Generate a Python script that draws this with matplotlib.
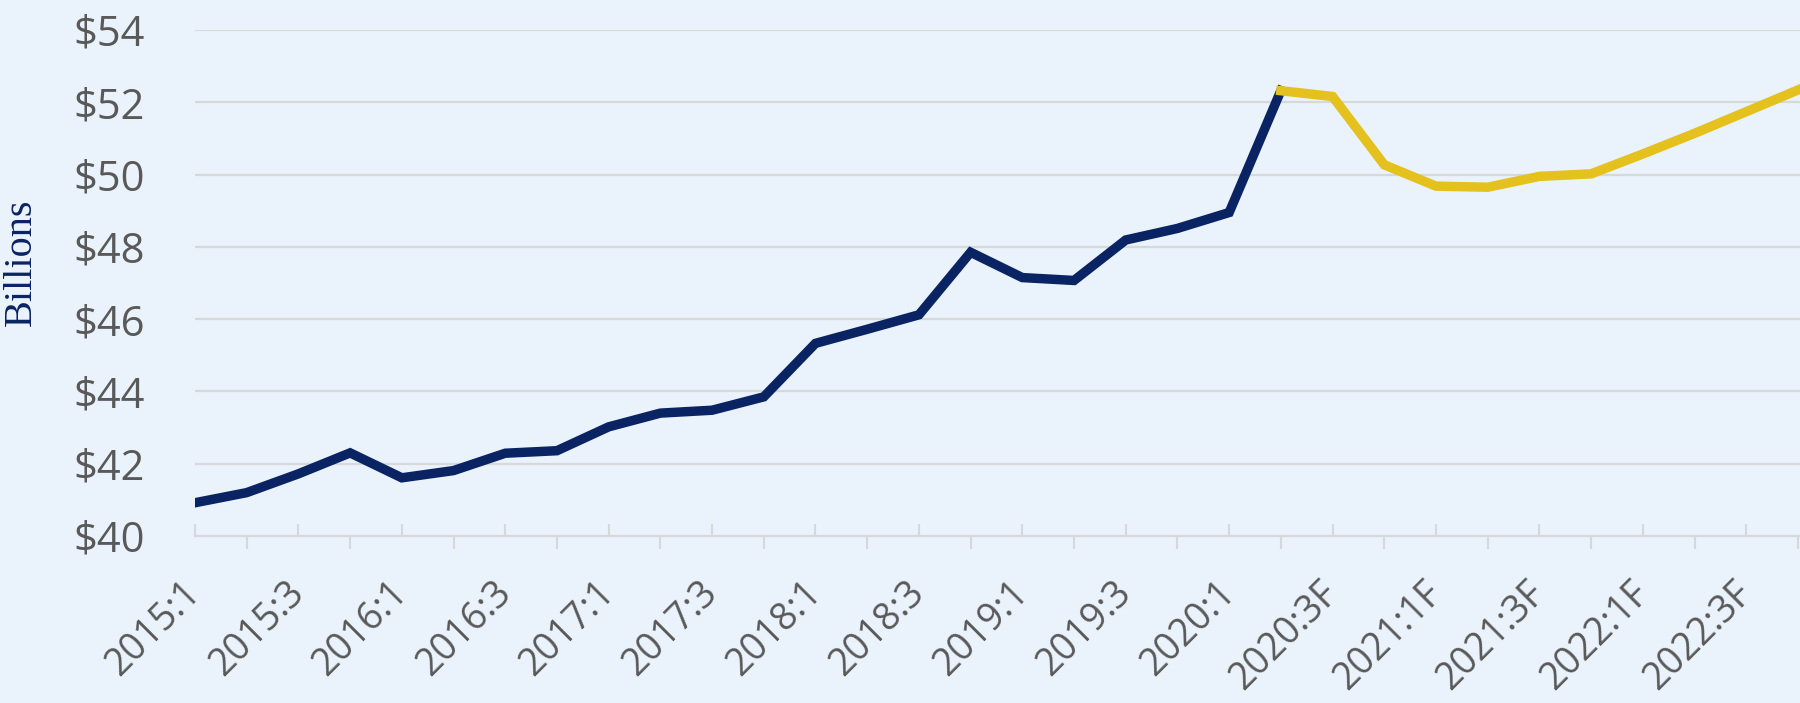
import matplotlib
matplotlib.use("Agg")
import matplotlib.pyplot as plt
import numpy as np

# quarters 2015:1 .. 2022:4, forecast from 2020:3 on
quarters = []
for yr in range(2015, 2023):
    for q in range(1, 5):
        tag = f"{yr}:{q}"
        if (yr, q) >= (2020, 3):
            tag += "F"
        quarters.append(tag)

actual = [40.92, 41.20, 41.72, 42.30, 41.61, 41.81, 42.29, 42.36,
          43.02, 43.40, 43.48, 43.85, 45.33, 45.72, 46.12, 47.85,
          47.15, 47.07, 48.19, 48.51, 48.95, 52.32]
forecast = [52.32, 52.16, 50.27, 49.68, 49.65, 49.95, 50.02,
            50.57, 51.14, 51.74, 52.34]
yticks = [40, 42, 44, 46, 48, 50, 52, 54]

navy = "#0a2463"
gold = "#e4c11c"
bg = "#eaf2fb"
grid_col = "#d6d8da"
text_col = "#595959"

fig = plt.figure(figsize=(18, 7.03), dpi=100)
fig.patch.set_facecolor(bg)
ax = fig.add_axes([195 / 1800, 1 - 536 / 703, 1 - 195 / 1800, (536 - 30) / 703])
ax.set_facecolor(bg)

x_act = np.arange(len(actual))
x_fc = np.arange(len(actual) - 1, len(actual) - 1 + len(forecast))
ax.plot(x_act, actual, color=navy, lw=6.8, solid_joinstyle="miter", zorder=3)
ax.plot(x_fc, forecast, color=gold, lw=6.8, solid_joinstyle="miter", zorder=3)

ax.set_xlim(0, 31.04)
ax.set_ylim(40, 54)

for v in yticks[1:]:
    ax.axhline(v, color=grid_col, lw=1.6, zorder=1)

for s in ["top", "right", "left"]:
    ax.spines[s].set_visible(False)
ax.spines["bottom"].set_color(grid_col)
ax.spines["bottom"].set_linewidth(1.6)

ax.set_yticks(yticks)
ax.set_yticklabels([f"${v}" for v in yticks], fontsize=30, color=text_col,
                   family="Open Sans")
ax.tick_params(axis="y", length=0, pad=36)

idx = np.arange(len(quarters))
ax.set_xticks(idx[::2])
ax.set_xticks(idx[1::2], minor=True)
ax.set_xticklabels(quarters[::2], fontsize=27, color=text_col, family="Open Sans",
                   rotation=45, ha="right", va="center", rotation_mode="anchor")
ax.tick_params(axis="x", which="major", direction="in", length=9, width=1.5,
               color=grid_col, pad=37)
ax.tick_params(axis="x", which="minor", direction="out", length=9, width=1.5,
               color=grid_col)

fig.text(21 / 1800, 1 - 262 / 703, "Billions", rotation=90, ha="center", va="center",
         fontsize=29, color=navy, family="Liberation Serif")

fig.savefig("out.png", dpi=100, facecolor=bg)
